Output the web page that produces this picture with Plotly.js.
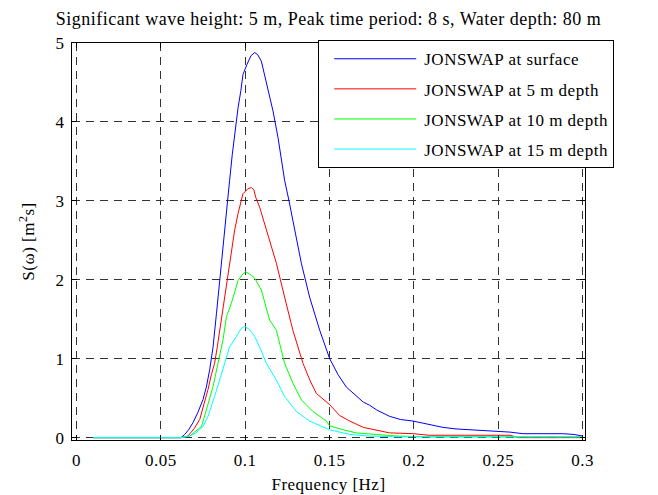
<!DOCTYPE html>
<html>
<head>
<meta charset="utf-8">
<script src="https://cdn.plot.ly/plotly-3.0.1.min.js"></script>
<style>
html,body{margin:0;padding:0;background:#fff;}
#chart{width:658px;height:495px;}
svg text{letter-spacing:0.5px;}
</style>
</head>
<body>
<div id="chart"></div>
<script>
const seriesNames = ["JONSWAP at surface", "JONSWAP at 5 m depth", "JONSWAP at 10 m depth", "JONSWAP at 15 m depth"];

const freqSurface = [0.01,0.03,0.05,0.062,0.0642,0.0665,0.0691,0.072,0.075,0.077,0.079,0.081,0.083,0.0845,0.0859,0.0875,0.0889,0.0908,0.0924,0.0948,0.0958,0.0975,0.0987,0.1011,0.1035,0.1057,0.1075,0.1096,0.1126,0.1165,0.1195,0.1234,0.126,0.1304,0.1333,0.1382,0.1442,0.1501,0.155,0.16,0.165,0.17,0.1738,0.178,0.1856,0.192,0.1995,0.208,0.2172,0.225,0.233,0.241,0.249,0.257,0.2646,0.28,0.2883,0.295,0.3];
const specSurface = [0,0,0,0,0.04,0.10,0.19,0.32,0.48,0.64,0.86,1.15,1.57,1.90,2.21,2.55,2.92,3.26,3.59,4.02,4.18,4.40,4.60,4.73,4.84,4.88,4.85,4.77,4.48,4.14,3.80,3.26,3.00,2.50,2.21,1.78,1.36,1.00,0.80,0.64,0.55,0.45,0.41,0.35,0.27,0.23,0.21,0.17,0.13,0.11,0.10,0.09,0.08,0.07,0.05,0.05,0.05,0.04,0.02];

const freq5m = [0.01,0.03,0.05,0.062,0.0661,0.070,0.0731,0.0755,0.078,0.080,0.0819,0.0835,0.0849,0.0865,0.0879,0.0895,0.0908,0.0925,0.0938,0.0958,0.0987,0.1015,0.1037,0.1052,0.1062,0.1086,0.1116,0.1145,0.1185,0.1234,0.1283,0.1343,0.1385,0.1422,0.150,0.156,0.162,0.170,0.178,0.1856,0.1995,0.209,0.23,0.257,0.262,0.3];
const spec5m = [0,0,0,0,0.02,0.12,0.23,0.40,0.61,0.80,0.94,1.15,1.36,1.58,1.78,2.00,2.21,2.45,2.63,2.84,3.09,3.15,3.17,3.14,3.05,2.92,2.71,2.50,2.21,1.78,1.36,0.94,0.72,0.56,0.42,0.28,0.21,0.13,0.09,0.06,0.05,0.03,0.03,0.03,0.0,0.0];

const freq10m = [0.01,0.03,0.05,0.062,0.0671,0.0705,0.0741,0.077,0.079,0.081,0.0839,0.0869,0.0889,0.0918,0.0958,0.0985,0.1003,0.103,0.1057,0.1096,0.1145,0.1185,0.1234,0.1283,0.1333,0.1402,0.1481,0.1501,0.158,0.1659,0.1778,0.19,0.2,0.21,0.3];
const spec10m = [0,0,0,0,0.02,0.08,0.14,0.35,0.50,0.65,0.94,1.24,1.53,1.70,1.99,2.07,2.10,2.07,2.02,1.87,1.49,1.36,0.94,0.69,0.48,0.33,0.21,0.15,0.10,0.06,0.04,0.02,0.015,0.01,0.01];

const freq15m = [0.01,0.03,0.05,0.062,0.067,0.071,0.075,0.078,0.0819,0.0849,0.0879,0.0908,0.0948,0.0975,0.0997,0.1025,0.1057,0.1086,0.1126,0.1185,0.1234,0.1304,0.1382,0.150,0.162,0.174,0.19,0.3];
const spec15m = [0,0,0,0,0.02,0.06,0.14,0.27,0.52,0.73,0.94,1.15,1.28,1.38,1.41,1.37,1.28,1.15,0.94,0.73,0.52,0.33,0.21,0.10,0.04,0.02,0.01,0.01];

const seriesColors = ["#0000ff", "#ff0000", "#00ff00", "#00ffff"];

const xTickVals = [0, 0.05, 0.1, 0.15, 0.2, 0.25, 0.3];
const xTickText = ["0", "0.05", "0.1", "0.15", "0.2", "0.25", "0.3"];
const yTickVals = [0, 1, 2, 3, 4, 5];
const yTickText = ["0", "1", "2", "3", "4", "5"];

const xs = [freqSurface, freq5m, freq10m, freq15m];
const ys = [specSurface, spec5m, spec10m, spec15m];

const traces = seriesNames.map((n, i) => ({
  x: xs[i], y: ys[i], type: "scatter", mode: "lines", name: n,
  legendgroup: "g" + i,
  line: {color: seriesColors[i], width: 1}
}));

const FONT = "Liberation Serif, Times New Roman, serif";
const FS = 17;
const layout = {
  width: 658, height: 495,
  margin: {l: 72, r: 73, t: 43, b: 55},
  paper_bgcolor: "#fff", plot_bgcolor: "#fff",
  font: {family: FONT, size: FS, color: "#000"},
  title: {text: "Significant wave height: 5 m, Peak time period: 8 s, Water depth: 80 m",
          x: 0.5, xref: "paper", xanchor: "center", y: 0.962, yanchor: "middle",
          font: {family: FONT, size: 18, color: "#000"}},
  xaxis: {range: [-0.0026, 0.3014], tickvals: xTickVals, ticktext: xTickText,
          ticks: "inside", ticklen: 5, tickcolor: "#000", mirror: "ticks",
          showline: true, linecolor: "#000", linewidth: 1,
          showgrid: true, gridcolor: "#333", griddash: "8px,6px", gridwidth: 1,
          zeroline: false, tickfont: {family: FONT, size: FS}, ticklabelstandoff: 5,
          title: {text: "Frequency [Hz]", font: {family: FONT, size: FS}, standoff: 8}},
  yaxis: {range: [-0.03, 5.0], tickvals: yTickVals, ticktext: yTickText,
          ticks: "inside", ticklen: 5, tickcolor: "#000", mirror: "ticks",
          showline: true, linecolor: "#000", linewidth: 1,
          showgrid: true, gridcolor: "#333", griddash: "8px,6px", gridwidth: 1,
          zeroline: false, tickfont: {family: FONT, size: FS}, ticklabelstandoff: 3,
          title: {text: "S(ω) [m<sup>2</sup>s]", font: {family: FONT, size: FS}, standoff: 16}},
  showlegend: true,
  legend: {x: 0.48, y: 1.007, xanchor: "left", yanchor: "top",
           bgcolor: "#fff", bordercolor: "#000", borderwidth: 1,
           font: {family: FONT, size: FS, color: "#000"},
           traceorder: "grouped", tracegroupgap: 5, itemwidth: 95,
           entrywidth: 265}
};

Plotly.newPlot("chart", traces, layout, {displayModeBar: false, staticPlot: true}).then(gd => {
  gd.querySelectorAll(".legend .legendlines path").forEach(p => p.setAttribute("d", "M15,0h82"));
});
</script>
</body>
</html>
